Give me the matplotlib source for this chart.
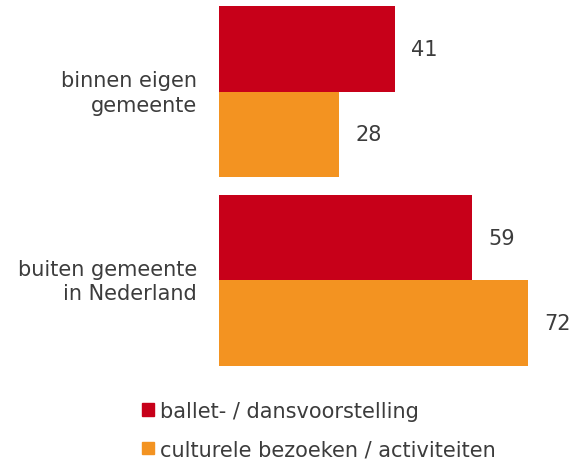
import matplotlib
matplotlib.use("Agg")
import matplotlib.pyplot as plt
import matplotlib.transforms as mtransforms
from matplotlib.patches import Rectangle
import numpy as np

categories = ["binnen eigen\ngemeente", "buiten gemeente\nin Nederland"]
series_names = ["ballet- / dansvoorstelling", "culturele bezoeken / activiteiten"]
ballet = [41, 59]
cultureel = [28, 72]
colors = ["#C70019", "#F39321"]
text_color = "#3C3C3C"

plt.rcParams['font.family'] = ['DejaVu Sans']
fig = plt.figure(figsize=(5.73, 4.6), dpi=100)
W, H = 573, 460
left_px, right_px, top_px, bot_px = 218.5, 573, 7, 367
ax = fig.add_axes([left_px / W, 1 - bot_px / H, (right_px - left_px) / W, (bot_px - top_px) / H])

bh = 85.5 / 188.5
y = np.arange(len(categories))
fs = 15
for vals, off, col in [(ballet, -bh / 2, colors[0]), (cultureel, bh / 2, colors[1])]:
    bars = ax.barh(y + off, vals, height=bh, color=col, edgecolor='none')
    for b, v in zip(bars, vals):
        ax.annotate(str(v), (b.get_width(), b.get_y() + b.get_height() / 2),
                    xytext=(12, 0), textcoords='offset points', ha='left', va='center',
                    fontsize=fs, color=text_color)

ax.set_xlim(0, (right_px - left_px) / 4.294)
ax.set_ylim(len(categories) - 1 + bh, -bh)
ax.set_yticks(y)
ax.set_yticklabels(categories, fontsize=fs, color=text_color, ha='right',
                   multialignment='right', linespacing=1.28)
ax.tick_params(axis='y', length=0, pad=15.5)
ax.set_xticks([])
for s in ax.spines.values():
    s.set_visible(False)
shift = mtransforms.ScaledTranslation(0, 3.5 / 100, fig.dpi_scale_trans)
for lbl in ax.get_yticklabels():
    lbl.set_transform(lbl.get_transform() + shift)

handles = [Rectangle((0, 0), 1, 1, color=c) for c in colors]
leg = fig.legend(handles, series_names, loc='upper left',
                 bbox_to_anchor=(142 / W, 1 - 402 / H), bbox_transform=fig.transFigure,
                 frameon=False, fontsize=fs, handlelength=0.58, handleheight=0.58,
                 handletextpad=0.3, labelspacing=0.88, borderpad=0, borderaxespad=0)
for t in leg.get_texts():
    t.set_color(text_color)

fig.savefig("out.png", dpi=100)
